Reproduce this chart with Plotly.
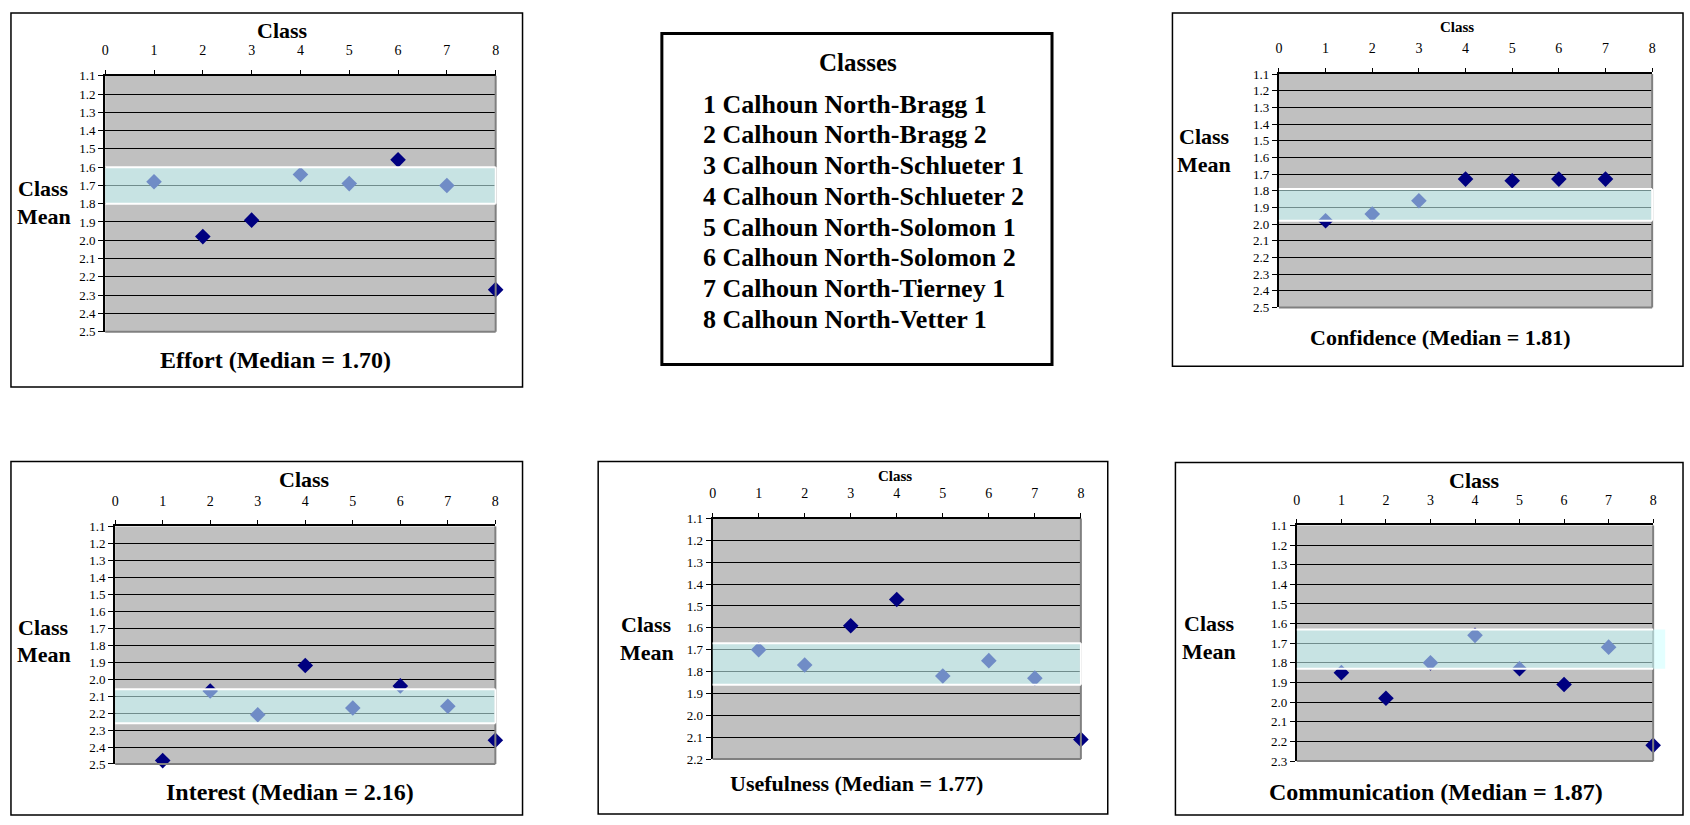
import plotly.graph_objects as go

W, H = 1690, 825

# ---- data -------------------------------------------------------------
classes = [1, 2, 3, 4, 5, 6, 7, 8]
class_names = [
    "Calhoun North-Bragg 1",
    "Calhoun North-Bragg 2",
    "Calhoun North-Schlueter 1",
    "Calhoun North-Schlueter 2",
    "Calhoun North-Solomon 1",
    "Calhoun North-Solomon 2",
    "Calhoun North-Tierney 1",
    "Calhoun North-Vetter 1",
]

effort = [1.68, 1.98, 1.89, 1.64, 1.69, 1.56, 1.70, 2.27]
confidence = [1.98, 1.94, 1.86, 1.73, 1.74, 1.73, 1.73, None]
interest = [2.48, 2.07, 2.21, 1.92, 2.17, 2.04, 2.16, 2.36]
usefulness = [1.70, 1.77, 1.59, 1.47, 1.82, 1.75, 1.83, 2.11]
communication = [1.85, 1.98, 1.80, 1.66, 1.83, 1.91, 1.72, 2.22]

measure_names = ["Effort", "Confidence", "Interest", "Usefulness", "Communication"]
medians = [1.70, 1.81, 2.16, 1.77, 1.87]
band_low = [1.60, 1.79, 2.06, 1.67, 1.63]
band_high = [1.80, 1.98, 2.26, 1.86, 1.83]
band_right = [8.0, 8.0, 8.0, 8.0, 8.27]
y_bottom = [2.5, 2.5, 2.5, 2.2, 2.3]
series = [effort, confidence, interest, usefulness, communication]

X_MAX = 8
Y_TOP = 1.1

# ---- panel geometry (pixels) -----------------------------------------
panels = [
    dict(box=(7, 6, 521, 387), plot=(101.7, 70, 494, 330.7), cls=(280, 24),
         cm=(40, 185, 213), title=(273, 360), cls_size=22, title_size=24),
    dict(box=(1174, 6, 1687, 366), plot=(1281, 68.3, 1656, 306), cls=(1460, 20),
         cm=(1206, 132, 160), title=(1443, 337), cls_size=15, title_size=22),
    dict(box=(7, 463, 521, 823), plot=(111.7, 529, 493.7, 771), cls=(302, 481),
         cm=(40, 632, 659), title=(287, 800), cls_size=22, title_size=24),
    dict(box=(597, 463, 1109, 822), plot=(712, 521, 1082, 766), cls=(895, 478),
         cm=(646, 629, 657), title=(857, 791), cls_size=15, title_size=22),
    dict(box=(1177, 464, 1687, 823), plot=(1299, 528, 1657, 768), cls=(1477, 482),
         cm=(1211, 628, 656), title=(1439, 800), cls_size=22, title_size=24),
]

SERIF = "Liberation Serif, Times New Roman, serif"
NAVY = "#000080"
PLOT_BG = "#C0C0C0"
BAND = "rgba(204,255,255,0.55)"


def px(x):
    return x / W


def py(y):
    return 1 - y / H


fig = go.Figure()
shapes = []
annotations = []
layout_axes = {}

for i, (p, vals) in enumerate(zip(panels, series)):
    n = i + 1
    xa = "x" if n == 1 else f"x{n}"
    ya = "y" if n == 1 else f"y{n}"
    xkey = "xaxis" if n == 1 else f"xaxis{n}"
    ykey = "yaxis" if n == 1 else f"yaxis{n}"
    x0, y0, x1, y1 = p["plot"]

    fig.add_trace(go.Scatter(
        x=classes, y=vals, mode="markers", xaxis=xa, yaxis=ya,
        marker=dict(symbol="diamond", size=12, color=NAVY),
        cliponaxis=False, showlegend=False, hoverinfo="x+y",
    ))

    ticks_y = [round(Y_TOP + 0.1 * k, 1)
               for k in range(int(round((y_bottom[i] - Y_TOP) / 0.1)) + 1)]

    layout_axes[xkey] = dict(
        domain=[px(x0), px(x1)], anchor=ya, side="top", range=[0, X_MAX],
        tickmode="array", tickvals=list(range(0, X_MAX + 1)),
        ticks="outside", ticklen=4, tickcolor="black", tickwidth=1,
        showline=True, linecolor="black", linewidth=2, showgrid=False,
        zeroline=False, ticklabelstandoff=9,
        tickfont=dict(family=SERIF, size=14, color="black"),
        fixedrange=True,
    )
    layout_axes[ykey] = dict(
        domain=[py(y1), py(y0)], anchor=xa, range=[y_bottom[i], Y_TOP],
        tickmode="array", tickvals=ticks_y, ticktext=[f"{v:.1f}" for v in ticks_y],
        ticks="outside", ticklen=5, tickcolor="black", tickwidth=1,
        showline=True, linecolor="black", linewidth=2,
        showgrid=True, gridcolor="black", gridwidth=1, zeroline=False,
        tickfont=dict(family=SERIF, size=13, color="black"),
        fixedrange=True,
    )

    # plot area background
    shapes.append(dict(type="rect", xref="paper", yref="paper", layer="below",
                       x0=px(x0), x1=px(x1), y0=py(y1), y1=py(y0),
                       fillcolor=PLOT_BG, line=dict(width=0)))
    # right and bottom plot-area border
    shapes.append(dict(type="line", xref="paper", yref="paper", layer="above",
                       x0=px(x1), x1=px(x1), y0=py(y0), y1=py(y1),
                       line=dict(color="#808080", width=2)))
    shapes.append(dict(type="line", xref="paper", yref="paper", layer="above",
                       x0=px(x0), x1=px(x1), y0=py(y1), y1=py(y1),
                       line=dict(color="#808080", width=2)))

    # translucent median band (axis-domain refs so it may run past the plot edge)
    span = y_bottom[i] - Y_TOP
    lo_frac = (y_bottom[i] - band_high[i]) / span
    hi_frac = (y_bottom[i] - band_low[i]) / span
    xd = f"{xa} domain"
    yd = f"{ya} domain"
    shapes.append(dict(type="rect", xref=xd, yref=yd, layer="above",
                       x0=0, x1=band_right[i] / X_MAX, y0=lo_frac, y1=hi_frac,
                       fillcolor=BAND, line=dict(width=0)))
    for edge in (lo_frac, hi_frac):
        shapes.append(dict(type="line", xref=xd, yref=yd, layer="above",
                           x0=0, x1=1, y0=edge, y1=edge,
                           line=dict(color="white", width=2)))
    if band_right[i] <= X_MAX:
        shapes.append(dict(type="line", xref=xd, yref=yd, layer="above",
                           x0=1, x1=1, y0=lo_frac, y1=hi_frac,
                           line=dict(color="white", width=2)))

    # panel frame
    bx0, by0, bx1, by1 = p["box"]
    shapes.append(dict(type="rect", xref="paper", yref="paper", layer="above",
                       x0=px(bx0), x1=px(bx1), y0=py(by1), y1=py(by0),
                       line=dict(color="black", width=1.5)))

    cx, cy = p["cls"]
    annotations.append(dict(xref="paper", yref="paper", x=px(cx), y=py(cy),
                            text="<b>Class</b>", showarrow=False,
                            xanchor="center", yanchor="middle",
                            font=dict(family=SERIF, size=p["cls_size"], color="black")))
    mx, my1, my2 = p["cm"]
    for txt, yy in (("Class", my1), ("Mean", my2)):
        annotations.append(dict(xref="paper", yref="paper", x=px(mx), y=py(yy),
                                text=f"<b>{txt}</b>", showarrow=False,
                                xanchor="center", yanchor="middle",
                                font=dict(family=SERIF, size=22, color="black")))
    tx, ty = p["title"]
    annotations.append(dict(xref="paper", yref="paper", x=px(tx), y=py(ty),
                            text=f"<b>{measure_names[i]} (Median = {medians[i]:.2f})</b>",
                            showarrow=False, xanchor="center", yanchor="middle",
                            font=dict(family=SERIF, size=p["title_size"], color="black")))

# ---- class key box ----------------------------------------------------
shapes.append(dict(type="rect", xref="paper", yref="paper", layer="above",
                   x0=px(661), x1=px(1053), y0=py(364), y1=py(27),
                   line=dict(color="black", width=3)))
annotations.append(dict(xref="paper", yref="paper", x=px(858), y=py(57),
                        text="<b>Classes</b>", showarrow=False,
                        xanchor="center", yanchor="middle",
                        font=dict(family=SERIF, size=25, color="black")))
for k, (c, name) in enumerate(zip(classes, class_names)):
    annotations.append(dict(xref="paper", yref="paper", x=px(700), y=py(99 + 31.3 * k),
                            text=f"<b>{c} {name}</b>", showarrow=False,
                            xanchor="left", yanchor="middle",
                            font=dict(family=SERIF, size=26, color="black")))

fig.update_layout(
    width=W, height=H, margin=dict(l=0, r=0, t=0, b=0),
    paper_bgcolor="white", plot_bgcolor="rgba(0,0,0,0)",
    shapes=shapes, annotations=annotations, showlegend=False,
    **layout_axes,
)

fig.write_html("out.html")
